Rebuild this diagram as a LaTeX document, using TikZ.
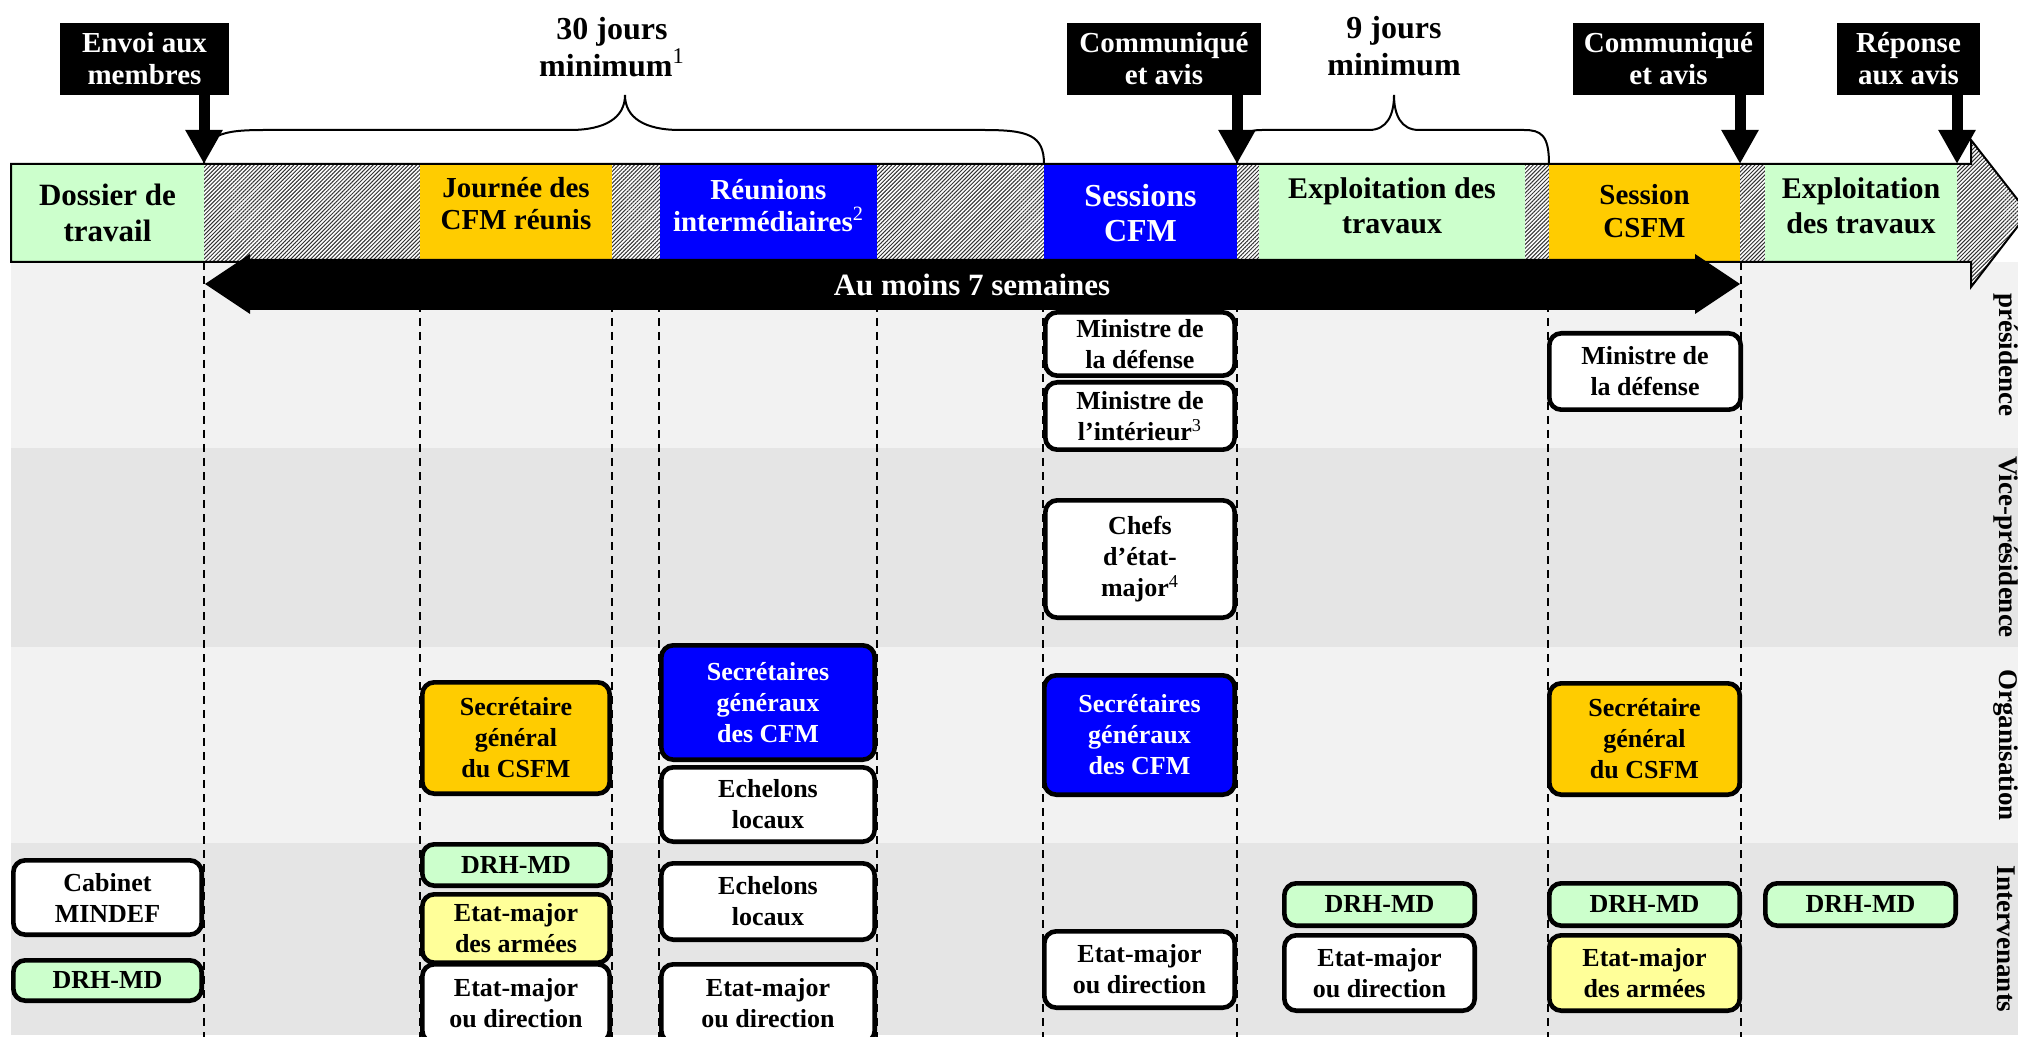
\documentclass[tikz,border=0pt]{standalone}
\usepackage{fontspec}
\setmainfont{Liberation Serif}
\usetikzlibrary{arrows.meta,patterns.meta}
\definecolor{cgreen}{HTML}{CCFFCC}
\definecolor{corange}{HTML}{FFCC00}
\definecolor{cblue}{HTML}{0000FF}
\definecolor{cyellow}{HTML}{FFFF99}
\definecolor{lanea}{HTML}{F2F2F2}
\definecolor{laneb}{HTML}{E5E5E5}
\newcommand\mkbox[7]{\node[#6, minimum width={(#4-#2)*0.5pt-2.3pt}, minimum height={(#5-#3)*0.5pt-2.3pt}] (#1) at ({(#2+#4)/2},{(#3+#5)/2}) {#7};}
\newcommand\mkseg[7]{\node[#6, minimum width={(#4-#2)*0.5pt}, minimum height={(#5-#3)*0.5pt}] (#1) at ({(#2+#4)/2},{(#3+#5)/2}) {#7};}
\newcommand\mysupr[1]{\textsuperscript{\mdseries #1}}
\begin{document}
\begin{tikzpicture}[x=0.5pt,y=-0.5pt,
  box/.style={draw=black, line width=2.3pt, rounded corners=6pt, align=center, inner sep=0pt, font=\bfseries\fontsize{13}{15.5}\selectfont},
  wbox/.style={box, fill=white},
  gbox/.style={box, fill=cgreen},
  obox/.style={box, fill=corange},
  ybox/.style={box, fill=cyellow},
  bbox/.style={box, fill=cblue, text=white},
  seg/.style={inner sep=0pt, align=center, font=\bfseries\fontsize{15}{17.5}\selectfont},
  hatch/.style={pattern={Lines[angle=45,distance=1.4pt,line width=0.5pt]}, pattern color=black!80},
  callout/.style={fill=black, text=white, inner sep=0pt, align=center, font=\bfseries\fontsize{14.5}{16}\selectfont},
  callarrow/.style={line width=5.5pt, -{Triangle[width=17.5pt,length=17pt]}},
  bracestyle/.style={line width=1pt},
  vline/.style={dash pattern=on 4pt off 3pt, line width=0.7pt},
  lanelabel/.style={rotate=-90, inner sep=0pt, font=\bfseries\fontsize{13.5}{15}\selectfont},
  toplabel/.style={inner sep=0pt, align=center, font=\bfseries\fontsize{16}{18.5}\selectfont}
]
\useasboundingbox[fill=white] (0,0) rectangle (2018,1037);
% lanes
\fill[lanea] (11,262) rectangle (2018,448);
\fill[laneb] (11,448) rectangle (2018,647);
\fill[lanea] (11,647) rectangle (2018,843);
\fill[laneb] (11,843) rectangle (2018,1035);
\node[lanelabel] (lp) at (2006,355) {présidence};
\node[lanelabel] (lv) at (2006,547) {Vice-présidence};
\node[lanelabel] (lo) at (2006,745) {Organisation};
\node[lanelabel] (li) at (2006,939) {Intervenants};
% dashed verticals
\foreach \xx in {204,420,612,659,877,1043,1237,1548,1741}
  \draw[vline] (\xx,262) -- (\xx,1037);
% main band
\path[fill=white] (11,164) -- (1971,164) -- (1971,140) -- (2028,213) -- (1971,287) -- (1971,262) -- (11,262) -- cycle;
\path[hatch] (11,164) -- (1971,164) -- (1971,140) -- (2028,213) -- (1971,287) -- (1971,262) -- (11,262) -- cycle;
\mkseg{dossier}{11}{164}{204}{262}{seg, fill=cgreen, font=\bfseries\fontsize{15.5}{18}\selectfont}{Dossier de\\travail}
\mkseg{journee}{420}{164}{612}{262}{seg, fill=corange}{}
\node[seg, font=\bfseries\fontsize{14.5}{16}\selectfont] (journeeT) at ([yshift=4.6pt]journee.center) {Journée des\\CFM réunis};
\mkseg{reunions}{660}{164}{877}{262}{seg, fill=cblue}{}
\node[seg, text=white, font=\bfseries\fontsize{14.5}{16}\selectfont] (reunionsT) at ([yshift=3.8pt]reunions.center) {Réunions\\intermédiaires\mysupr{2}};
\mkseg{sessions}{1044}{164}{1237}{262}{seg, fill=cblue, text=white, font=\bfseries\fontsize{16}{17.5}\selectfont}{Sessions\\CFM}
\mkseg{exploit}{1259}{164}{1525}{262}{seg, fill=cgreen}{}
\node[seg] (exploitT) at ([yshift=3.5pt]exploit.center) {Exploitation des\\travaux};
\mkseg{csfm}{1549}{164}{1740}{262}{seg, fill=corange}{}
\node[seg, font=\bfseries\fontsize{14.5}{16.5}\selectfont] (csfmT) at ([yshift=0.8pt]csfm.center) {Session\\CSFM};
\mkseg{exploitb}{1765}{164}{1957}{262}{seg, fill=cgreen}{}
\node[seg] (exploitbT) at ([yshift=3.5pt]exploitb.center) {Exploitation\\des travaux};
\draw[line width=1pt] (11,164) -- (1971,164) -- (1971,140) -- (2028,213) -- (1971,287) -- (1971,262) -- (11,262) -- cycle;
% braces
\draw[bracestyle] (204,164) .. controls (204,135) and (220,130) .. (264,130) -- (570,130) .. controls (605,130) and (625,118) .. (625,95) .. controls (625,118) and (645,130) .. (680,130) -- (984,130) .. controls (1028,130) and (1044,135) .. (1044,164);
\draw[bracestyle] (1237,164) .. controls (1237,135) and (1245,130) .. (1262,130) -- (1369,130) .. controls (1387,130) and (1394,115) .. (1394,95) .. controls (1394,115) and (1401,130) .. (1419,130) -- (1524,130) .. controls (1541,130) and (1549,135) .. (1549,164);
\node[toplabel] (trente) at (612,47) {30 jours\\minimum\mysupr{1}};
\node[toplabel] (neuf) at (1394,46) {9 jours\\minimum};
% double arrow
\fill[black] (205,284) -- (250,254) -- (250,259) -- (1695,259) -- (1695,254) -- (1740,284) -- (1695,314) -- (1695,310) -- (250,310) -- (250,314) -- cycle;
\node[text=white, inner sep=0pt, font=\bfseries\fontsize{15.5}{17}\selectfont] (sept) at (972,285) {Au moins 7 semaines};
% callouts
\coordinate (t1) at (204,164);
\coordinate (t2) at (1237,164);
\coordinate (t3) at (1740,164);
\coordinate (t4) at (1957,164);
\mkseg{envoi}{60}{23}{229}{95}{callout}{Envoi aux\\membres}
\mkseg{comm1}{1067}{23}{1261}{95}{callout}{Communiqué\\et avis}
\mkseg{comm2}{1573}{23}{1764}{95}{callout}{Communiqué\\et avis}
\mkseg{rep}{1837}{23}{1980}{95}{callout}{Réponse\\aux avis}
\draw[callarrow] (envoi.south -| t1) -- (t1);
\draw[callarrow] (comm1.south -| t2) -- (t2);
\draw[callarrow] (comm2.south -| t3) -- (t3);
\draw[callarrow] (rep.south -| t4) -- (t4);
% boxes: Dossier column
\mkbox{cab}{11}{858}{204}{937}{wbox}{Cabinet\\MINDEF}
\mkbox{drha}{11}{958}{204}{1003}{gbox}{DRH-MD}
% Journee column
\mkbox{sga}{420}{680}{612}{796}{obox}{Secrétaire\\général\\du CSFM}
\mkbox{drhb}{420}{842}{612}{888}{gbox}{DRH-MD}
\mkbox{emaa}{420}{892}{612}{965}{ybox}{Etat-major\\des armées}
\mkbox{emda}{420}{962}{612}{1045}{wbox}{Etat-major\\ou direction}
% Reunions column
\mkbox{sgca}{659}{643}{877}{762}{bbox}{Secrétaires\\généraux\\des CFM}
\mkbox{echa}{659}{765}{877}{844}{wbox}{Echelons\\locaux}
\mkbox{echb}{659}{861}{877}{942}{wbox}{Echelons\\locaux}
\mkbox{emdb}{659}{962}{877}{1045}{wbox}{Etat-major\\ou direction}
% Sessions column
\mkbox{mina}{1043}{310}{1237}{378}{wbox}{Ministre de\\la défense}
\mkbox{mini}{1043}{380}{1237}{452}{wbox}{Ministre de\\l’intérieur\mysupr{3}}
\mkbox{chefs}{1043}{498}{1237}{620}{wbox}{Chefs\\d’état-\\major\mysupr{4}}
\mkbox{sgcb}{1042}{673}{1237}{797}{bbox}{Secrétaires\\généraux\\des CFM}
\mkbox{emdc}{1042}{929}{1237}{1010}{wbox}{Etat-major\\ou direction}
% Exploitation column
\mkbox{drhc}{1282}{881}{1477}{928}{gbox}{DRH-MD}
\mkbox{emdd}{1282}{933}{1477}{1013}{wbox}{Etat-major\\ou direction}
% Session CSFM column
\mkbox{minb}{1547}{331}{1743}{412}{wbox}{Ministre de\\la défense}
\mkbox{sgb}{1547}{681}{1742}{797}{obox}{Secrétaire\\général\\du CSFM}
\mkbox{drhd}{1547}{881}{1742}{928}{gbox}{DRH-MD}
\mkbox{emab}{1547}{933}{1742}{1013}{ybox}{Etat-major\\des armées}
% Exploitation 2
\mkbox{drhe}{1763}{881}{1958}{928}{gbox}{DRH-MD}
\end{tikzpicture}
\end{document}
